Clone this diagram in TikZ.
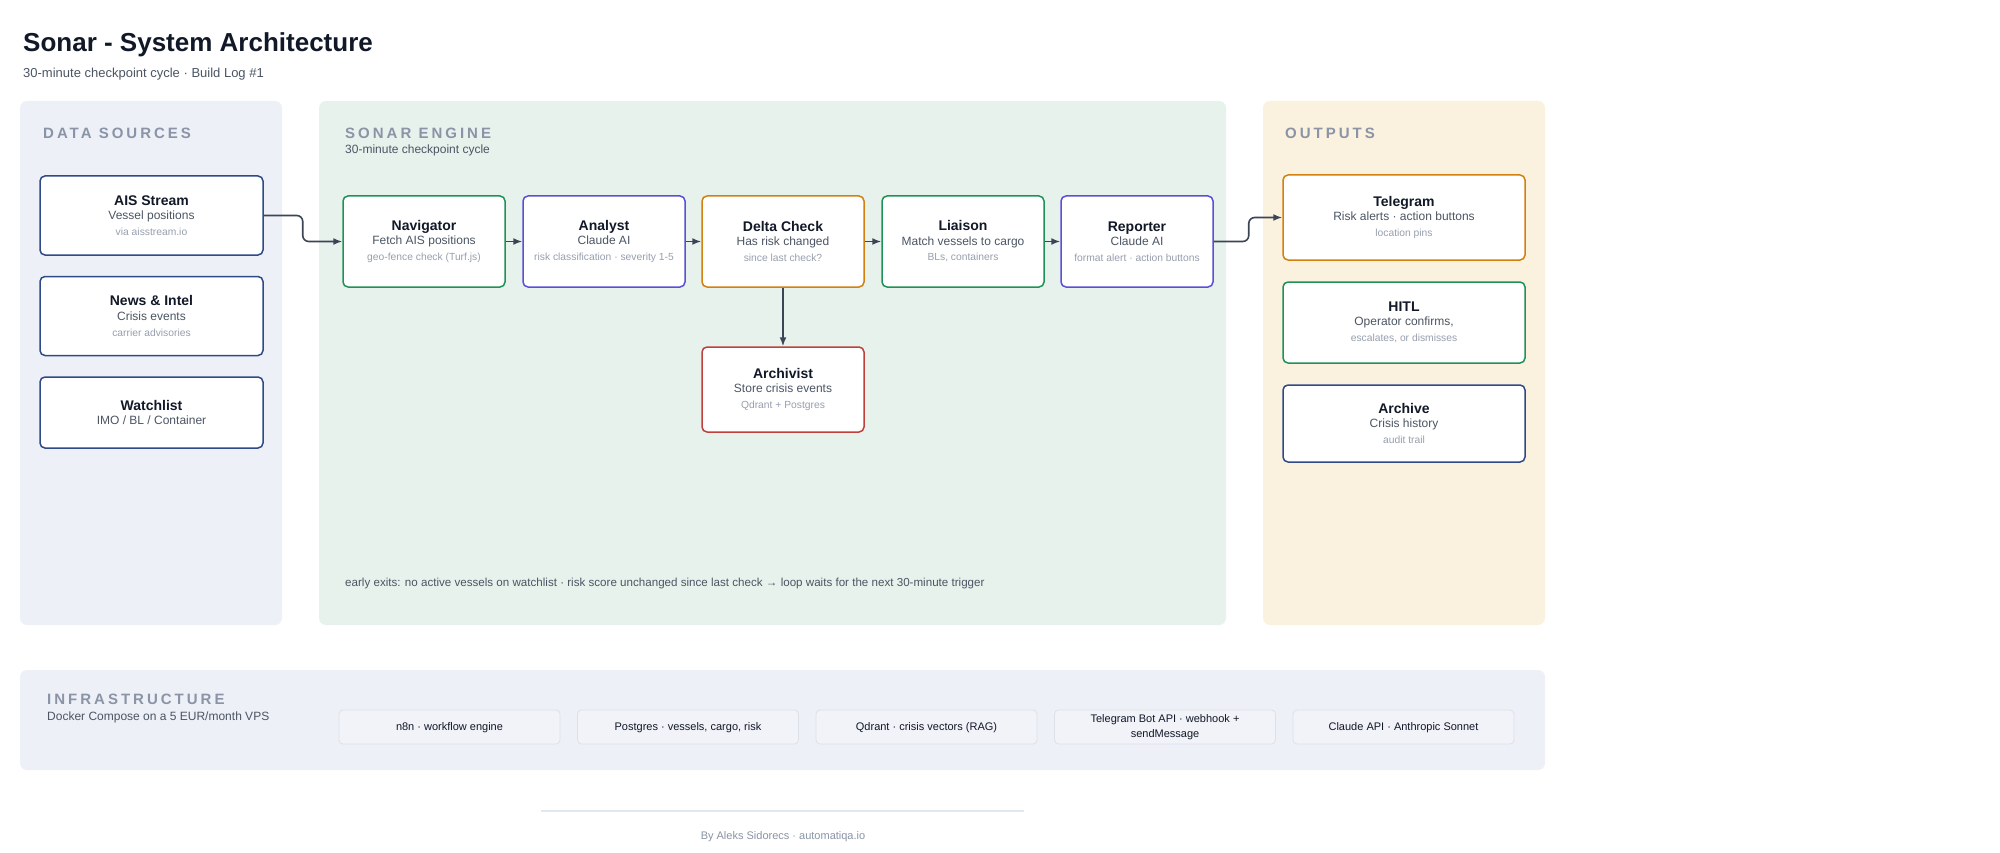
\documentclass[tikz,border=0pt]{standalone}
\usepackage{fontspec}
\setmainfont{Liberation Sans}
\newfontfamily\spacedfont[LetterSpace=20]{Liberation Sans}
\usetikzlibrary{arrows.meta}
\definecolor{bgsrc}{HTML}{EDF0F7}
\definecolor{bgeng}{HTML}{E8F2EC}
\definecolor{bgout}{HTML}{FBF1DF}
\definecolor{navy}{HTML}{2F4A87}
\definecolor{greenb}{HTML}{1F9357}
\definecolor{purpleb}{HTML}{5B4FD8}
\definecolor{orangeb}{HTML}{D4800F}
\definecolor{redb}{HTML}{C0413B}
\definecolor{titlec}{HTML}{111827}
\definecolor{subc}{HTML}{4B5563}
\definecolor{smallc}{HTML}{979FAD}
\definecolor{headc}{HTML}{8A94A6}
\definecolor{connc}{HTML}{3B4556}
\definecolor{infrafill}{HTML}{F1F3F8}
\definecolor{infraline}{HTML}{DCE1E9}
\definecolor{footline}{HTML}{E2E8F0}
\newcommand{\bxt}[3]{{\fontsize{14}{16}\selectfont\bfseries\color{titlec}#1}\\[-1.5pt]{\fontsize{12}{14}\selectfont\color{subc}#2}\\{\fontsize{10.3}{12}\selectfont\color{smallc}#3}}
\newcommand{\bxtwo}[2]{{\fontsize{14}{16}\selectfont\bfseries\color{titlec}#1}\\[-1.5pt]{\fontsize{12}{14}\selectfont\color{subc}#2}}
\tikzset{
  panel/.style={rounded corners=7pt, draw=none},
  card/.style={draw, fill=white, line width=1.5pt, rounded corners=5pt, align=center, inner sep=2pt,
    font=\fontsize{12}{15.8}\selectfont},
  srccard/.style={card, draw=navy, minimum width=223, minimum height=#1},
  engcard/.style={card, minimum width=162, minimum height=91},
  outcard/.style={card, minimum width=242, minimum height=#1},
  infracard/.style={draw=infraline, fill=infrafill, line width=0.8pt, rounded corners=4pt, align=center,
    minimum width=221, minimum height=34, inner sep=1pt, text=titlec, font=\fontsize{11}{15.5}\selectfont},
  heading/.style={anchor=base west, inner sep=0pt, text=headc, font=\spacedfont\bfseries\fontsize{15}{18}\selectfont},
  subhead/.style={anchor=base west, inner sep=0pt, text=subc, font=\fontsize{12}{14}\selectfont},
  conn/.style={draw=connc, line width=1.6pt, -{Latex[length=9pt,width=7pt]}},
}
\begin{document}
\begin{tikzpicture}[x=1pt,y=-1pt]
\useasboundingbox (0,0) rectangle (2000,853);
\fill[white] (0,0) rectangle (2000,853);

% title
\node[anchor=base west, inner sep=0pt, text=titlec, font=\bfseries\fontsize{26}{30}\selectfont] (title) at (23,51.5) {Sonar - System Architecture};
\node[anchor=base west, inner sep=0pt, text=subc, font=\fontsize{13}{15}\selectfont] (subtitle) at (23,78) {30-minute checkpoint cycle · Build Log \#1};

% panels
\fill[panel, bgsrc] (20,101) rectangle (282,625);
\fill[panel, bgeng] (319,101) rectangle (1226,625);
\fill[panel, bgout] (1263,101) rectangle (1545,625);
\fill[panel, bgsrc] (20,670) rectangle (1545,770);

% headings
\node[heading] (hsrc) at (43,138.3) {DATA SOURCES};
\node[heading] (heng) at (345,138.3) {SONAR ENGINE};
\node[subhead] (heng2) at (345,153.3) {30-minute checkpoint cycle};
\node[heading] (hout) at (1285,138.3) {OUTPUTS};
\node[heading] (hinf) at (47,704.7) {INFRASTRUCTURE};
\node[subhead] (hinf2) at (47,720) {Docker Compose on a 5 EUR/month VPS};

% data sources
\node[srccard=79] (ais) at (151.5,215.5) {\bxt{AIS Stream}{Vessel positions}{via aisstream.io}};
\node[srccard=79] (news) at (151.5,316) {\bxt{News \& Intel}{Crisis events}{carrier advisories}};
\node[srccard=71] (watch) at (151.5,412.5) {\bxtwo{Watchlist}{IMO / BL / Container}};

% engine
\node[engcard, draw=greenb] (nav) at (424,241.5) {\bxt{Navigator}{Fetch AIS positions}{geo-fence check (Turf.js)}};
\node[engcard, draw=purpleb] (ana) at (604,241.5) {\bxt{Analyst}{Claude AI}{risk classification · severity 1-5}};
\node[engcard, draw=orangeb] (delta) at (783,241.5) {\bxt{Delta Check}{Has risk changed}{since last check?}};
\node[engcard, draw=greenb] (liai) at (963,241.5) {\bxt{Liaison}{Match vessels to cargo}{BLs, containers}};
\node[engcard, draw=purpleb, minimum width=152] (rep) at (1137,241.5) {\bxt{Reporter}{Claude AI}{format alert · action buttons}};
\node[engcard, draw=redb, minimum height=85] (arch) at (783,389.5) {\bxt{Archivist}{Store crisis events}{Qdrant + Postgres}};

\node[anchor=base west, inner sep=0pt, text=subc, font=\fontsize{11.6}{14}\selectfont] (exits) at (345,586.7) {early exits: no active vessels on watchlist · risk score unchanged since last check → loop waits for the next 30-minute trigger};

% outputs
\node[outcard=85, draw=orangeb] (tel) at (1404,217.5) {\bxt{Telegram}{Risk alerts · action buttons}{location pins}};
\node[outcard=81, draw=greenb] (hitl) at (1404,322.5) {\bxt{HITL}{Operator confirms,}{escalates, or dismisses}};
\node[outcard=77, draw=navy] (archive) at (1404,423.5) {\bxt{Archive}{Crisis history}{audit trail}};

% infrastructure
\node[infracard, text height=9.5, text depth=2] (i1) at (449.5,727) {n8n · workflow engine};
\node[infracard, text height=9.5, text depth=2] (i2) at (688,727) {Postgres · vessels, cargo, risk};
\node[infracard, text height=9.5, text depth=2] (i3) at (926.5,727) {Qdrant · crisis vectors (RAG)};
\node[infracard] (i4) at (1165,727) {Telegram Bot API · webhook +\\sendMessage};
\node[infracard, text height=9.5, text depth=2] (i5) at (1403.5,727) {Claude API · Anthropic Sonnet};

% connectors
\draw[conn, rounded corners=6pt] (ais.east) -- ++(39,0) |- (nav.west);
\draw[conn] (nav.east) -- (ana.west);
\draw[conn] (ana.east) -- (delta.west);
\draw[conn] (delta.east) -- (liai.west);
\draw[conn] (liai.east) -- (rep.west);
\draw[conn] (delta.south) -- (arch.north);
\draw[conn, rounded corners=6pt] (rep.east) -- ++(35,0) |- (tel.west);

% footer
\coordinate (fl) at (541,811);
\coordinate (fr) at (1024,811);
\draw[footline, line width=1.2pt] (fl) -- (fr);
\node[anchor=base, inner sep=0pt, text=headc, font=\fontsize{11}{13}\selectfont] (foot) at (783,839) {By Aleks Sidorecs · automatiqa.io};
\end{tikzpicture}
\end{document}
